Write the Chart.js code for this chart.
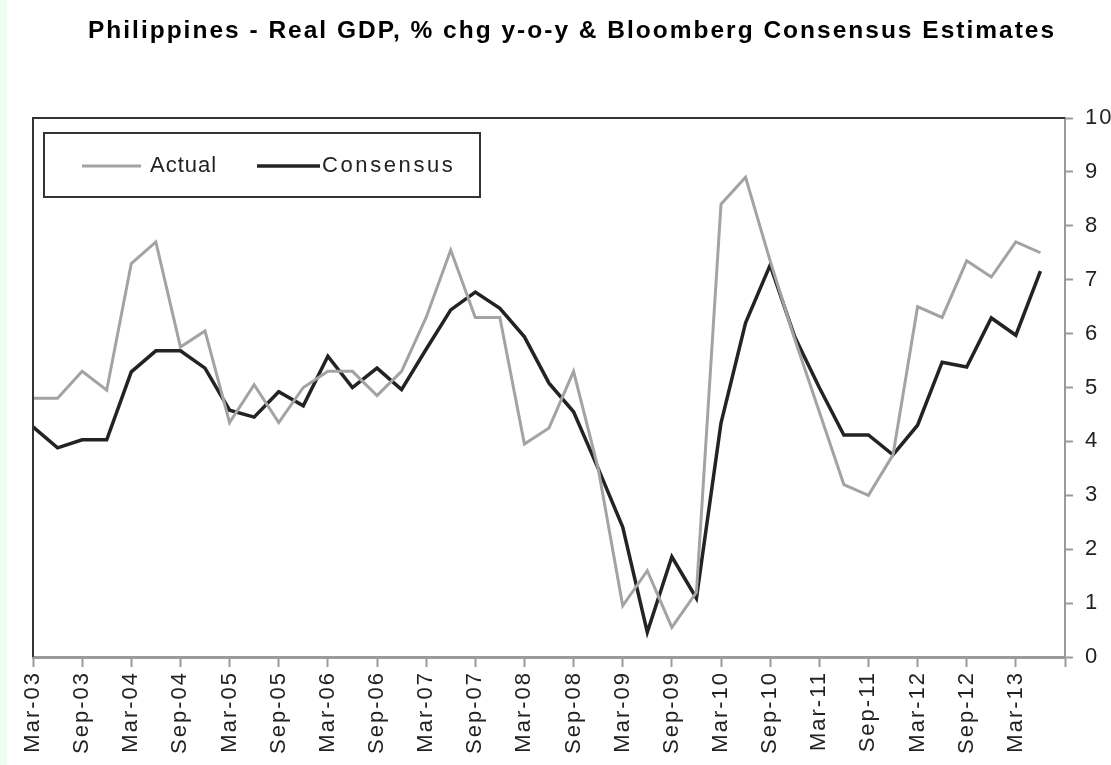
<!DOCTYPE html>
<html>
<head>
<meta charset="utf-8">
<script src="https://cdn.jsdelivr.net/npm/chart.js@4.4.1/dist/chart.umd.min.js"></script>
<style>
    html, body { margin: 0; padding: 0; background: #ffffff; }
    #wrap { position: relative; width: 1111px; height: 765px; }
</style>
</head>
<body>
<div id="wrap"><canvas id="gdp" width="1111" height="765"></canvas></div>
<script>
// quarters, Mar-03 .. Sep-13 (last one is the empty end of the axis)
var quarters = [
    'Mar-03', 'Jun-03', 'Sep-03', 'Dec-03', 'Mar-04', 'Jun-04', 'Sep-04', 'Dec-04',
    'Mar-05', 'Jun-05', 'Sep-05', 'Dec-05', 'Mar-06', 'Jun-06', 'Sep-06', 'Dec-06',
    'Mar-07', 'Jun-07', 'Sep-07', 'Dec-07', 'Mar-08', 'Jun-08', 'Sep-08', 'Dec-08',
    'Mar-09', 'Jun-09', 'Sep-09', 'Dec-09', 'Mar-10', 'Jun-10', 'Sep-10', 'Dec-10',
    'Mar-11', 'Jun-11', 'Sep-11', 'Dec-11', 'Mar-12', 'Jun-12', 'Sep-12', 'Dec-12',
    'Mar-13', 'Jun-13', 'Sep-13'
];

var actual = [
    4.8, 4.8, 5.3, 4.95, 7.3, 7.7, 5.75, 6.05,
    4.35, 5.05, 4.35, 5.0, 5.3, 5.3, 4.85, 5.3,
    6.3, 7.55, 6.3, 6.3, 3.95, 4.25, 5.3, 3.5,
    0.95, 1.6, 0.55, 1.2, 8.4, 8.9, 7.35, 5.9,
    4.55, 3.2, 3.0, 3.75, 6.5, 6.3, 7.35, 7.05,
    7.7, 7.5
];

var consensus = [
    4.27, 3.88, 4.03, 4.03, 5.29, 5.68, 5.68, 5.36,
    4.58, 4.45, 4.92, 4.66, 5.58, 5.0, 5.36, 4.96,
    5.71, 6.44, 6.77, 6.47, 5.94, 5.08, 4.55, 3.5,
    2.41, 0.46, 1.86, 1.09, 4.34, 6.2, 7.27, 5.94,
    5.0, 4.12, 4.12, 3.75, 4.3, 5.47, 5.38, 6.29,
    5.97, 7.16
];

var yTicks = [0, 1, 2, 3, 4, 5, 6, 7, 8, 9, 10];

var axisGrey = '#9a9a9a';
var textDark = '#222222';

// page background with the mint strip on the left, and the wide letter spacing
var backgroundPlugin = {
    id: 'background',
    beforeDraw: function (chart) {
        var ctx = chart.ctx;
        ctx.save();
        ctx.fillStyle = '#ffffff';
        ctx.fillRect(0, 0, chart.width, chart.height);
        ctx.fillStyle = '#eafff0';
        ctx.fillRect(0, 0, 7, chart.height);
        ctx.restore();
        ctx.letterSpacing = '2px';
    }
};

// dark plot border on the left and top
var framePlugin = {
    id: 'frame',
    afterDatasetsDraw: function (chart) {
        var a = chart.chartArea;
        var ctx = chart.ctx;
        ctx.save();
        ctx.strokeStyle = '#333333';
        ctx.lineWidth = 2;
        ctx.beginPath();
        ctx.moveTo(a.left, a.bottom);
        ctx.lineTo(a.left, a.top);
        ctx.lineTo(a.right, a.top);
        ctx.stroke();
        ctx.restore();
    }
};

// boxed legend inside the plot area
var boxLegendPlugin = {
    id: 'boxLegend',
    afterDraw: function (chart) {
        var a = chart.chartArea;
        var ctx = chart.ctx;
        var x = a.left + 11, y = a.top + 15, w = 436, h = 64;
        ctx.save();
        ctx.fillStyle = '#ffffff';
        ctx.fillRect(x, y, w, h);
        ctx.strokeStyle = '#333333';
        ctx.lineWidth = 2;
        ctx.strokeRect(x, y, w, h);

        var items = [
            { lineFrom: 82, lineTo: 141, textX: 150, spacing: '1px' },
            { lineFrom: 257, lineTo: 320, textX: 322, spacing: '2.6px' }
        ];
        ctx.font = '22px "Liberation Sans", Arial, sans-serif';
        ctx.textBaseline = 'middle';
        chart.data.datasets.forEach(function (ds, i) {
            var it = items[i];
            var cy = y + h / 2 + 1;
            ctx.strokeStyle = ds.borderColor;
            ctx.lineWidth = ds.borderWidth;
            ctx.beginPath();
            ctx.moveTo(it.lineFrom, cy);
            ctx.lineTo(it.lineTo, cy);
            ctx.stroke();
            ctx.letterSpacing = it.spacing;
            ctx.fillStyle = textDark;
            ctx.fillText(ds.label, it.textX, cy);
        });
        ctx.restore();
    }
};

var ctx = document.getElementById('gdp');
var gdpChart = new Chart(ctx, {
    type: 'line',
    data: {
        labels: quarters,
        datasets: [{
            label: 'Actual',
            data: actual,
            borderColor: '#a3a3a3',
            borderWidth: 3,
            pointRadius: 0,
            tension: 0
        }, {
            label: 'Consensus',
            data: consensus,
            borderColor: '#232323',
            borderWidth: 3.5,
            pointRadius: 0,
            tension: 0
        }]
    },
    options: {
        responsive: false,
        animation: false,
        devicePixelRatio: 1,
        layout: {
            padding: { left: 33, right: 0, top: 0, bottom: 0 }
        },
        plugins: {
            legend: { display: false },
            tooltip: { enabled: false },
            title: {
                display: true,
                text: 'Philippines - Real GDP, % chg y-o-y & Bloomberg Consensus Estimates',
                color: '#000000',
                font: { family: '"Liberation Sans", Arial, sans-serif', size: 24.5, weight: 'bold' },
                padding: { top: 17, bottom: 71.6 }
            }
        },
        scales: {
            x: {
                type: 'category',
                offset: false,
                border: { color: axisGrey, width: 3 },
                grid: {
                    drawOnChartArea: false,
                    tickLength: 10,
                    tickWidth: 2,
                    tickColor: function (c) {
                        return c.index % 2 === 0 ? axisGrey : 'rgba(0,0,0,0)';
                    }
                },
                ticks: {
                    autoSkip: false,
                    maxRotation: 90,
                    minRotation: 90,
                    padding: 4,
                    color: textDark,
                    font: { family: '"Liberation Sans", Arial, sans-serif', size: 22 },
                    callback: function (value, index) {
                        if (index % 2 !== 0 || index >= quarters.length - 1) return '';
                        return quarters[index];
                    }
                },
                afterFit: function (scale) { scale.height = 108; }
            },
            y: {
                position: 'right',
                min: yTicks[0],
                max: yTicks[yTicks.length - 1],
                border: { color: axisGrey, width: 2 },
                grid: {
                    drawOnChartArea: false,
                    tickLength: 8,
                    tickWidth: 2,
                    tickColor: axisGrey
                },
                afterBuildTicks: function (scale) {
                    scale.ticks = yTicks.map(function (v) { return { value: v }; });
                },
                ticks: {
                    padding: 12,
                    color: textDark,
                    font: { family: '"Liberation Sans", Arial, sans-serif', size: 22 }
                },
                afterFit: function (scale) { scale.width = 46; }
            }
        }
    },
    plugins: [backgroundPlugin, framePlugin, boxLegendPlugin]
});
</script>
</body>
</html>
